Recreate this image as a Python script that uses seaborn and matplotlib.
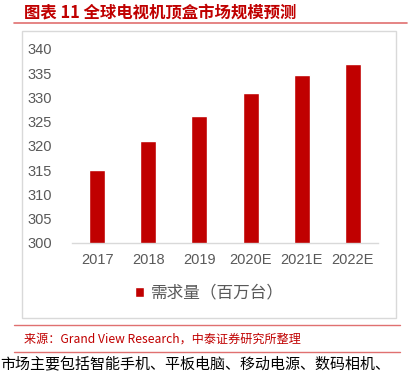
import matplotlib
matplotlib.use("Agg")
import matplotlib.pyplot as plt
import seaborn as sns
import pandas as pd
from matplotlib.patches import Rectangle
from matplotlib.lines import Line2D

years = ["2017", "2018", "2019", "2020E", "2021E", "2022E"]
demand = [315.0, 321.0, 326.2, 331.0, 334.6, 336.9]
series_name = "需求量（百万台）"
title = "图表 11 全球电视机顶盒市场规模预测"
source = "来源：Grand View Research，中泰证券研究所整理"
footer = "市场主要包括智能手机、平板电脑、移动电源、数码相机、"

sns.set_theme(style="white")
plt.rcParams["font.family"] = ["Noto Sans CJK SC", "DejaVu Sans"]

W, H = 408, 372
fig = plt.figure(figsize=(W / 100, H / 100), dpi=100)

def fx(px):
    return px / W

def fy(py):
    return 1 - py / H

red = "#c00000"
line_red = "#e07070"

# header
fig.text(fx(24), fy(12), title, color=red, fontsize=11.8, fontweight="bold",
         fontstyle="italic", va="center", ha="left")
fig.add_artist(Line2D([fx(14), fx(407)], [fy(23), fy(23)], color=line_red, lw=1.2))

# chart frame
fig.add_artist(Rectangle((fx(22), fy(318)), fx(396) - fx(22), fy(31) - fy(318),
                         fill=False, edgecolor="#d9d9d9", lw=1.0))

ax = fig.add_axes([fx(71.5), fy(243), fx(378.5) - fx(71.5), fy(49) - fy(243)])
df = pd.DataFrame({"year": years, "demand": demand})
sns.barplot(data=df, x="year", y="demand", color=red, saturation=1,
            width=0.31, ax=ax, label=series_name)
ax.set_ylim(300, 340)
ax.set_yticks(range(300, 341, 5))
ax.set_xlim(-0.5, len(years) - 0.5)
ax.set_xlabel("")
ax.set_ylabel("")
for s in ["top", "right", "left"]:
    ax.spines[s].set_visible(False)
ax.spines["bottom"].set_color("#d9d9d9")
ax.spines["bottom"].set_linewidth(1.0)
ax.tick_params(axis="both", length=0, colors="#595959", labelsize=10.5)
ax.tick_params(axis="y", pad=14)
ax.tick_params(axis="x", pad=7)
for lbl in ax.get_xticklabels() + ax.get_yticklabels():
    lbl.set_family(["Liberation Sans", "DejaVu Sans"])
ax.set_facecolor("none")

leg = ax.legend(loc="center", bbox_to_anchor=(0.45, (243 - 293) / 194), frameon=False,
                handlelength=0.55, handleheight=0.55, handletextpad=0.4,
                prop={"size": 12})
for t in leg.get_texts():
    t.set_color("#595959")

# source block
fig.add_artist(Line2D([fx(14), fx(400)], [fy(325), fy(325)], color=line_red, lw=1.0))
fig.text(fx(24), fy(339), source, color=red, fontsize=8.7, va="center", ha="left")
fig.add_artist(Line2D([fx(14), fx(400)], [fy(352), fy(352)], color=line_red, lw=1.0))
fig.text(fx(0), fy(364), footer, color="black", fontsize=10.8, va="center", ha="left")

fig.savefig("out.png", dpi=100)
